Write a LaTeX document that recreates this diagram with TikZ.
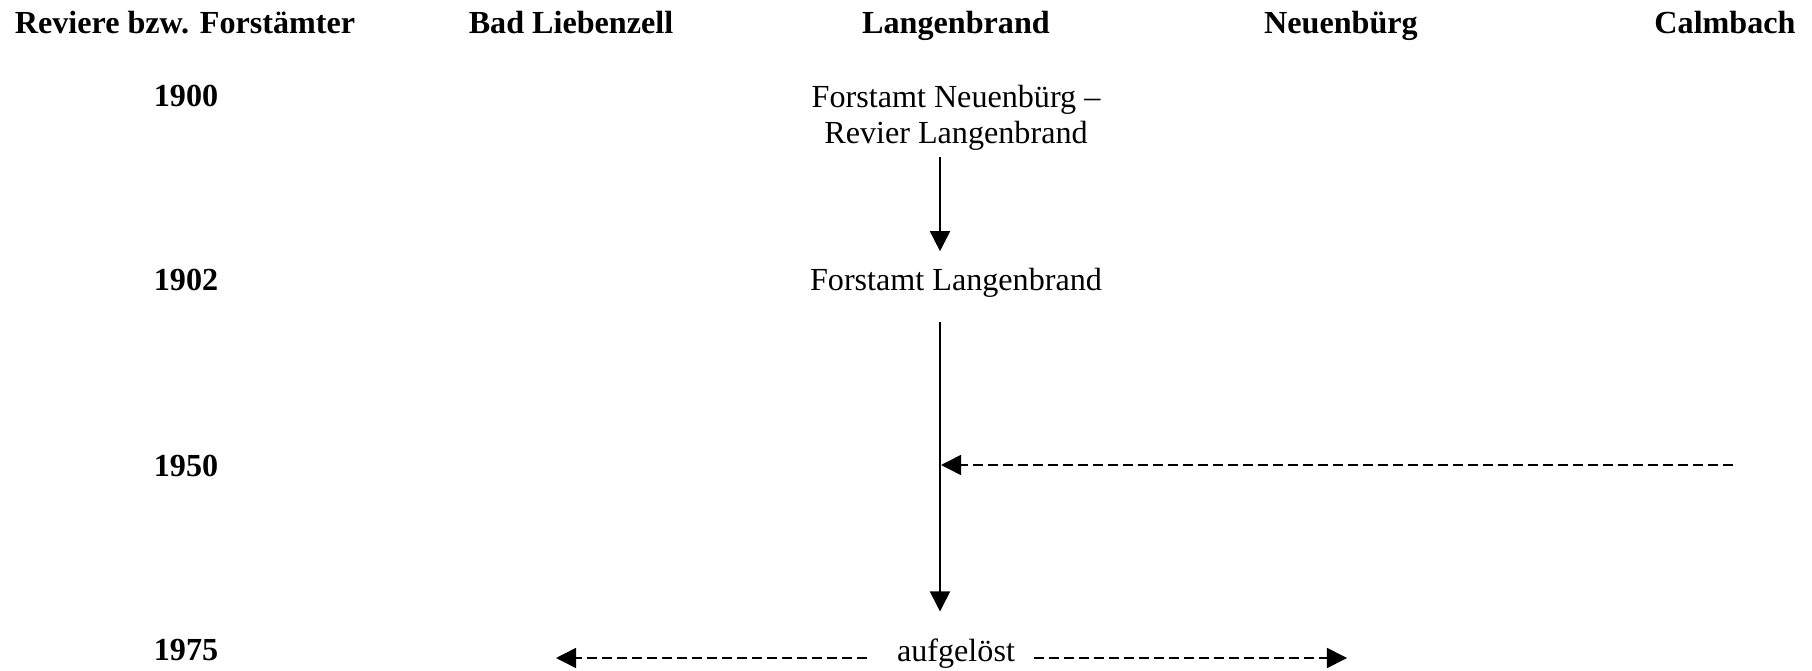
\documentclass[tikz,border=0pt]{standalone}
\usepackage{fontspec}
\setmainfont{Liberation Serif}
\usetikzlibrary{arrows.meta,positioning,calc}

\begin{document}
\begin{tikzpicture}[x=0.3733pt,y=-0.3733pt,
          hdr/.style={font=\fontsize{12}{14}\selectfont\bfseries,anchor=base},
          amt/.style={font=\fontsize{12}{13.8}\selectfont,align=center,
                      anchor=base},
          arr/.style={-{Triangle[length=7.5pt,width=7.5pt]},line width=0.6pt},
          darr/.style={arr,dash pattern=on 3.8pt off 1.8pt}]
          \useasboundingbox (0,0) rectangle (1812,671);
          % Kopfzeile
          \node[hdr](kopf) at (185,34){Reviere bzw. Forstämter};
          \node[hdr](bl) at (571,34){Bad Liebenzell};
          \node[hdr](lb) at (956,34){Langenbrand};
          \node[hdr](nb) at (1341,34){Neuenbürg};
          \node[hdr](cb) at (1725,34){Calmbach};
          % Jahre
          \node[hdr](j1900) at (186,107){1900};
          \node[hdr](j1902) at (186,291){1902};
          \node[hdr](j1950) at (186,476){1950};
          \node[hdr](j1975) at (186,660){1975};
          % Forstaemter
          \node[amt](fnr) at (956,144){Forstamt Neuenbürg --\\Revier Langenbrand};
          \node[amt](fl) at (956,291){Forstamt Langenbrand};
          \node[amt](auf) at (956,661){aufgelöst};
          \coordinate (achse) at (940,0);
          \coordinate (calw) at (1733,465);
          \coordinate (zu) at (941,465);
          \coordinate (links) at (556,658);
          \coordinate (rechts) at (1347,658);
          \draw[arr,shorten <=-1.3pt,shorten >=3pt] (fnr.south -| achse) -- (fl.north -| achse);
          \draw[arr,shorten <=5.6pt,shorten >=6.5pt]
            (fl.south -| achse) -- (auf.north -| achse);
          \draw[darr] (calw) -- (zu);
          \draw[darr,shorten <=7.8pt] (auf.west |- links) -- (links);
          \draw[darr,shorten <=3.4pt] (auf.east |- rechts) -- (rechts);
        \end{tikzpicture}
\end{document}
